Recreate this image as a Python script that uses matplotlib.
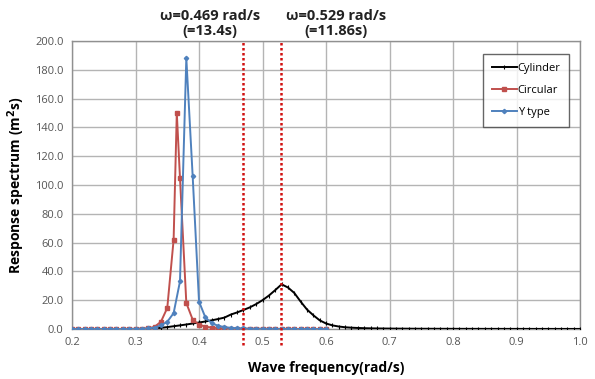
import numpy as np
import matplotlib
matplotlib.use("Agg")
import matplotlib.pyplot as plt

plt.rcParams["font.family"] = ["Open Sans", "DejaVu Sans"]

# Cylinder: 0.20 .. 1.00 rad/s, every 0.01
CYL_W = np.round(np.arange(0.20, 1.0001, 0.01), 2)
CYL_S = [0.0] * 13 + [
    0.3, 0.8, 1.3, 1.9, 2.5, 3.1, 3.8, 4.5, 5.2, 6.0,        # 0.33 - 0.42
    6.9, 7.9, 10.0, 11.5, 13.2, 15.0, 17.3, 20.0, 23.2, 27.0,  # 0.43 - 0.52
    31.0, 28.8, 25.0, 19.0, 13.5, 9.5, 6.0, 3.8, 2.5, 1.7,    # 0.53 - 0.62
    1.2, 0.9, 0.7, 0.55, 0.45, 0.38, 0.32, 0.28, 0.25, 0.22,  # 0.63 - 0.72
    0.2, 0.18, 0.16, 0.15, 0.14, 0.13, 0.12, 0.11, 0.1, 0.1,  # 0.73 - 0.82
    0.09, 0.09, 0.08, 0.08, 0.07, 0.07, 0.07, 0.06, 0.06, 0.06,  # 0.83 - 0.92
    0.05, 0.05, 0.05, 0.05, 0.05, 0.04, 0.04, 0.04,          # 0.93 - 1.00
]

# Circular: 0.20 .. 0.60 rad/s, plus the resonance point
CIR_W = [0.20, 0.21, 0.22, 0.23, 0.24, 0.25, 0.26, 0.27, 0.28, 0.29,
         0.30, 0.31, 0.32, 0.33, 0.34, 0.35, 0.36, 0.365, 0.37, 0.38,
         0.39, 0.40, 0.41, 0.42, 0.43, 0.44, 0.45, 0.46, 0.47, 0.48,
         0.49, 0.50, 0.51, 0.52, 0.53, 0.54, 0.55, 0.56, 0.57, 0.58,
         0.59, 0.60]
CIR_S = [0.0, 0.0, 0.0, 0.0, 0.0, 0.0, 0.0, 0.0, 0.0, 0.05,
         0.1, 0.2, 0.4, 1.5, 5.0, 14.6, 62.0, 150.0, 105.0, 18.0,
         6.5, 3.0, 1.6, 1.0, 0.6, 0.4, 0.3, 0.2, 0.15, 0.1,
         0.1, 0.05, 0.05, 0.0, 0.0, 0.0, 0.0, 0.0, 0.0, 0.0,
         0.0, 0.0]

# Y type: 0.20 .. 0.60 rad/s
YT_W = [0.20, 0.21, 0.22, 0.23, 0.24, 0.25, 0.26, 0.27, 0.28, 0.29,
        0.30, 0.31, 0.32, 0.33, 0.34, 0.35, 0.36, 0.37, 0.38, 0.39,
        0.40, 0.41, 0.42, 0.43, 0.44, 0.45, 0.46, 0.47, 0.48, 0.49,
        0.50, 0.51, 0.52, 0.53, 0.54, 0.55, 0.56, 0.57, 0.58, 0.59,
        0.60]
YT_S = [0.0, 0.0, 0.0, 0.0, 0.0, 0.0, 0.0, 0.0, 0.0, 0.05,
        0.1, 0.2, 0.4, 1.0, 2.5, 5.0, 11.0, 33.0, 188.0, 106.0,
        19.0, 8.0, 4.0, 2.2, 1.3, 0.8, 0.5, 0.35, 0.25, 0.2,
        0.15, 0.1, 0.1, 0.05, 0.05, 0.0, 0.0, 0.0, 0.0, 0.0,
        0.0]

MARK_W = [0.469, 0.529]
MARK_TXT = ["ω=0.469 rad/s\n(=13.4s)", "ω=0.529 rad/s\n(=11.86s)"]

fig = plt.figure(figsize=(5.95, 3.79), dpi=100)
ax = fig.add_axes([0.121, 0.132, 0.854, 0.760])

ax.plot(CYL_W, CYL_S, color="black", lw=1.4, marker="|", ms=3.5, mew=0.8,
        label="Cylinder", zorder=3)
ax.plot(CIR_W, CIR_S, color="#c0504d", lw=1.4, marker="s", ms=2.2,
        label="Circular", zorder=4)
ax.plot(YT_W, YT_S, color="#4f81bd", lw=1.4, marker="D", ms=2.2,
        label="Y type", zorder=5)

# dotted markers at the two natural frequencies, captions placed beside them
for w, txt, dx in zip(MARK_W, MARK_TXT, [-0.052, 0.086]):
    ax.axvline(w, ymin=-0.056, ymax=1.0, color="#d01010", ls=(0, (1, 1)),
               lw=1.8, clip_on=False, zorder=6)
    ax.text(w + dx, 1.01, txt, transform=ax.get_xaxis_transform(), ha="center",
            va="bottom", fontsize=10.5, fontweight="bold",
            linespacing=1.1, color="#222222")

ax.set_xlim(0.2, 1.0)
ax.set_ylim(0, 200)
xt = np.arange(0.2, 1.01, 0.1)
yt = np.arange(0, 201, 20)
ax.set_xticks(xt)
ax.set_yticks(yt)
ax.set_xticklabels([f"{t:.1f}" for t in xt])
ax.set_yticklabels([f"{t:.1f}" for t in yt])
ax.tick_params(length=0, labelsize=8, labelcolor="#555555", pad=6)
ax.grid(True, color="#b4b4b4", lw=1.0)
ax.set_axisbelow(True)
for s in ax.spines.values():
    s.set_color("#909090")
    s.set_linewidth(1.0)

ax.set_xlabel("Wave frequency(rad/s)", fontsize=10, fontweight="bold", labelpad=9)
ax.set_ylabel("Response spectrum (m$^\\mathbf{2}$s)", fontsize=10,
              fontweight="bold", labelpad=6)

leg = ax.legend(loc="upper right", bbox_to_anchor=(0.99, 0.975), fontsize=8,
                frameon=True, fancybox=False, handlelength=2.2,
                handletextpad=0.1, labelspacing=1.0, borderpad=0.8)
leg.get_frame().set_edgecolor("#404040")
leg.get_frame().set_linewidth(1.0)

fig.savefig("out.png", dpi=100)
